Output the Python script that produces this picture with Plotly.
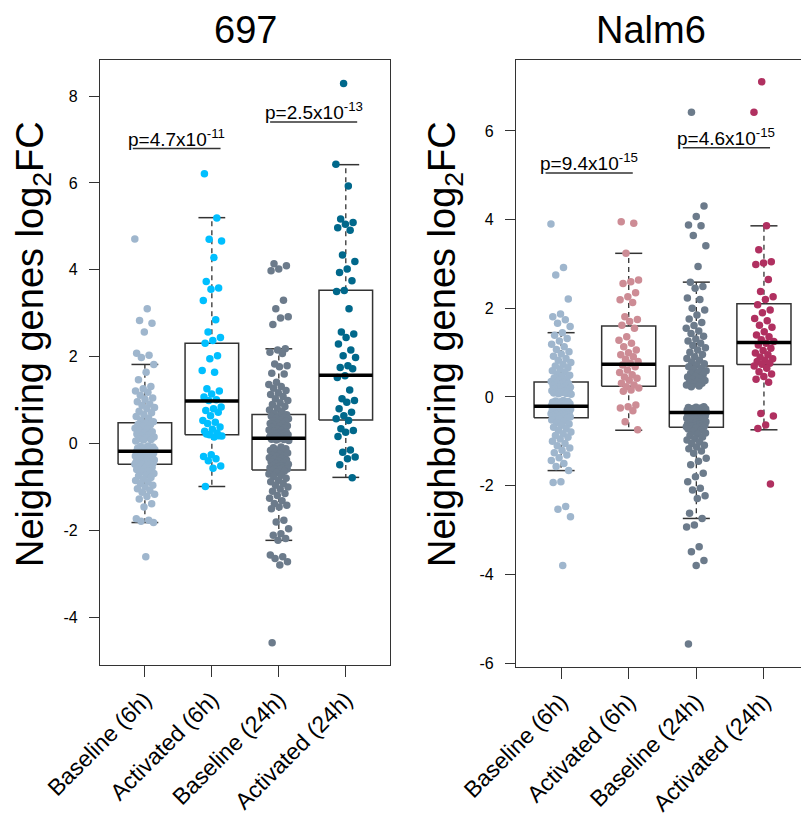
import plotly.graph_objects as go

# ---------------- data ----------------
categories = ["Baseline (6h)", "Activated (6h)", "Baseline (24h)", "Activated (24h)"]
panel_titles = ["697", "Nalm6"]

# 697 panel
c697_base6 = [4.71, 3.10, 2.83, 2.77, 2.57, 2.08, 2.03, 1.98, 1.82, 1.64, 1.47, 1.31, 1.26, 1.21, 1.18,
              1.11, 1.05, 1.02, 0.96, 0.91, 0.88, 0.83, 0.80, 0.74, 0.71, 0.66, 0.62, 0.58, 0.53, 0.50,
              0.47, 0.44, 0.43, 0.39, 0.35, 0.34, 0.30, 0.27, 0.25, 0.22, 0.20, 0.17, 0.15, 0.13, 0.11,
              0.09, 0.08, 0.06, -0.06, -0.07, -0.08, -0.10, -0.11, -0.12, -0.13, -0.14, -0.15, -0.16, -0.17, -0.18,
              -0.19, -0.20, -0.21, -0.22, -0.24, -0.25, -0.26, -0.28, -0.29, -0.30, -0.31, -0.33, -0.34, -0.35, -0.36,
              -0.37, -0.38, -0.39, -0.40, -0.41, -0.42, -0.43, -0.44, -0.45, -0.45, -0.46, -0.47, -0.47, -0.48, -0.48,
              -0.50, -0.52, -0.55, -0.57, -0.60, -0.63, -0.65, -0.69, -0.72, -0.75, -0.78, -0.82, -0.85, -0.88, -0.92,
              -0.96, -1.00, -1.04, -1.08, -1.12, -1.17, -1.22, -1.28, -1.39, -1.46, -1.73, -1.77, -1.79, -1.82, -2.61]
c697_act6 = [6.21, 5.19, 4.70, 4.66, 4.28, 3.73, 3.58, 3.55, 3.29, 2.85, 2.57, 2.44, 2.37, 2.31, 2.02, 1.95,
             1.68, 1.64, 1.26, 1.21, 1.14, 1.07, 1.01, 0.99, 0.84, 0.80, 0.76, 0.72, 0.64, 0.53, 0.49, 0.46,
             0.38, 0.33, 0.28, 0.24, 0.20, 0.17, 0.15, 0.22, 0.18, -0.26, -0.30, -0.35, -0.40, -0.52, -0.57, -0.99]
c697_base24 = [4.14, 4.09, 4.02, 3.98, 3.30, 3.10, 2.92, 2.89, 2.74, 2.18, 2.15, 2.10, 2.07, 1.83, 1.79,
               1.77, 1.62, 1.60, 1.41, 1.36, 1.31, 1.27, 1.22, 1.17, 1.13, 1.08, 1.03, 0.99, 0.94, 0.90,
               0.85, 0.81, 0.77, 0.73, 0.69,
               0.66, 0.64, 0.63, 0.60, 0.58, 0.57, 0.54, 0.52, 0.51, 0.48, 0.46, 0.45, 0.42, 0.41, 0.39,
               0.37, 0.35, 0.34, 0.31, 0.30, 0.28, 0.27, 0.25, 0.24, 0.22, 0.21, 0.20, 0.19, 0.18, 0.17,
               0.16, 0.15, 0.14, 0.13, 0.12,
               0.11, 0.10, 0.09, 0.08, 0.07, -0.08, -0.10, -0.12, -0.15, -0.16, -0.18, -0.21, -0.22, -0.24,
               -0.27, -0.28, -0.30, -0.33, -0.34, -0.36, -0.38, -0.40, -0.42, -0.45, -0.46, -0.48, -0.51,
               -0.52, -0.54, -0.55, -0.56, -0.57, -0.58, -0.59, -0.60,
               -0.62, -0.64, -0.67, -0.70, -0.73, -0.76, -0.80, -0.84, -0.88, -0.92, -0.96, -1.00, -1.05,
               -1.10, -1.15, -1.20, -1.26, -1.32, -1.38, -1.42, -1.46, -1.50, -1.77, -1.81, -1.96, -2.08,
               -2.11, -2.19, -2.23, -2.57, -2.61, -2.65, -2.72, -2.80, -4.59]
c697_act24 = [8.29, 6.43, 5.93, 5.17, 5.09, 5.05, 4.97, 4.91, 4.34, 4.19, 4.02, 3.94, 3.75, 3.52, 3.50, 3.10,
              2.57, 2.52, 2.44, 2.29, 2.15, 2.02, 1.98, 1.79, 1.75, 1.72, 1.56, 1.52, 1.23, 1.03, 0.99, 0.95,
              0.80, 0.72, 0.64, 0.57, 0.53, 0.34, 0.30, 0.26, 0.16, -0.15, -0.20, -0.31, -0.35, -0.49, -0.79]

# Nalm6 panel
nalm_base6 = [3.90, 2.92, 2.75, 2.21, 1.87, 1.81, 1.74, 1.66, 1.59, 1.45, 1.39, 1.32, 1.26, 1.19, 1.13,
              1.07, 1.02, 0.97, 0.92, 0.87, 0.83, 0.78, 0.74, 0.70, 0.66, 0.63, 0.59, 0.56, 0.52, 0.49,
              0.46, 0.43, 0.40, 0.37, 0.35,
              0.33, 0.31, 0.30, 0.28, 0.26, 0.25, 0.23, 0.22, 0.20, 0.19, 0.17, 0.16, 0.14, 0.13, 0.12,
              0.11, 0.10, 0.09, 0.08, 0.07, 0.06, -0.08, -0.09, -0.10, -0.11, -0.12, -0.13, -0.14, -0.15,
              -0.16, -0.17, -0.18, -0.19, -0.20, -0.21,
              -0.22, -0.23, -0.23, -0.24, -0.25, -0.26, -0.27, -0.28, -0.28, -0.29, -0.30, -0.31, -0.32,
              -0.33, -0.33, -0.34, -0.35, -0.36, -0.37, -0.38, -0.38, -0.39, -0.40, -0.41, -0.42, -0.43,
              -0.44, -0.45, -0.45, -0.46, -0.47,
              -0.49, -0.52, -0.55, -0.58, -0.61, -0.64, -0.68, -0.71, -0.75, -0.79, -0.83, -0.87, -0.91,
              -0.95, -1.00, -1.05, -1.10, -1.15, -1.20, -1.26, -1.31, -1.37, -1.43, -1.50, -1.57, -1.66,
              -1.91, -1.93, -2.47, -2.53, -2.70, -3.80]
nalm_act6 = [3.95, 3.92, 3.24, 2.64, 2.60, 2.56, 2.35, 2.26, 2.19, 2.13, 1.81, 1.75, 1.70, 1.62, 1.55, 1.36,
             1.28, 1.21, 1.13, 1.06, 1.00, 0.95, 0.91, 0.85, 0.80, 0.76, 0.72, 0.68, 0.61, 0.55, 0.50, 0.45,
             0.42, 0.38, 0.31, 0.27, 0.23, 0.20, 0.16, 0.13, -0.18, -0.22, -0.25, -0.31, -0.56, -0.74]
nalm_base24 = [6.42, 4.31, 4.07, 3.88, 3.86, 3.64, 3.41, 2.94, 2.59, 2.49, 2.45, 2.23, 2.20, 2.00, 1.96,
               1.85, 1.76, 1.68, 1.61, 1.55, 1.49, 1.43, 1.37, 1.31, 1.26, 1.21, 1.16, 1.11, 1.06, 1.01,
               0.96, 0.91, 0.87, 0.83, 0.79, 0.75, 0.72,
               0.68, 0.65, 0.62, 0.59, 0.56, 0.53, 0.50, 0.47, 0.45, 0.42, 0.40, 0.37, 0.35, 0.33, 0.31,
               0.29, 0.27, 0.25, 0.23, -0.22, -0.23, -0.24, -0.25, -0.26, -0.27, -0.28, -0.28, -0.29,
               -0.30, -0.30, -0.31, -0.32, -0.32, -0.33, -0.33, -0.34, -0.34, -0.35,
               -0.36, -0.37, -0.38, -0.39, -0.40, -0.41, -0.42, -0.43, -0.44, -0.45, -0.46, -0.47, -0.48,
               -0.49, -0.50, -0.51, -0.52, -0.53, -0.54, -0.55, -0.56, -0.57, -0.58, -0.59, -0.60, -0.61,
               -0.62, -0.63, -0.64, -0.64, -0.65, -0.66, -0.66, -0.67, -0.67, -0.68, -0.68,
               -0.70, -0.72, -0.75, -0.78, -0.81, -0.84, -0.87, -0.90, -0.94, -0.97, -1.01, -1.05, -1.09,
               -1.13, -1.17, -1.22, -1.27, -1.38, -1.45, -1.53, -1.72, -1.80, -1.91, -2.06, -2.10, -2.23,
               -2.29, -2.62, -2.74, -2.89, -2.93, -3.38, -3.49, -3.69, -3.80, -5.57]
nalm_act24 = [7.11, 6.42, 3.86, 3.32, 3.05, 3.02, 2.99, 2.65, 2.38, 2.26, 2.20, 2.08, 1.96, 1.90, 1.77, 1.72,
              1.62, 1.57, 1.47, 1.40, 1.36, 1.29, 1.25, 1.21, 1.17, 1.10, 1.05, 0.99, 0.95, 0.90, 0.86, 0.83,
              0.80, 0.76, 0.74, 0.70, 0.65, 0.57, 0.52, 0.46, 0.40, 0.33, -0.37, -0.43, -0.63, -0.71, -1.96]

# box statistics
c697_q1 = [-0.48, 0.20, -0.61, 0.54]
c697_med = [-0.18, 0.98, 0.12, 1.57]
c697_q3 = [0.48, 2.31, 0.67, 3.53]
c697_lo = [-1.82, -0.99, -2.23, -0.78]
c697_hi = [1.82, 5.20, 2.18, 6.42]
nalm_q1 = [-0.47, 0.24, -0.68, 0.73]
nalm_med = [-0.21, 0.74, -0.35, 1.23]
nalm_q3 = [0.34, 1.60, 0.70, 2.10]
nalm_lo = [-1.66, -0.75, -2.74, -0.74]
nalm_hi = [1.45, 3.24, 2.59, 3.86]

# p-value brackets: (x start, x end, y, label)
c697_pvals = [(0.82, 2.13, 6.79, "p=4.7x10<sup>-11</sup>"), (2.87, 4.17, 7.40, "p=2.5x10<sup>-13</sup>")]
nalm_pvals = [(0.77, 2.06, 5.05, "p=9.4x10<sup>-15</sup>"), (2.80, 4.09, 5.62, "p=4.6x10<sup>-15</sup>")]

c697_colors = ["#9FB6CD", "#00BFFF", "#6C7B8B", "#00688B"]
nalm_colors = ["#9FB6CD", "#CD8C95", "#6C7B8B", "#B03060"]

c697_ticks = [-4, -2, 0, 2, 4, 6, 8]
nalm_ticks = [-6, -4, -2, 0, 2, 4, 6]

# ---------------- figure ----------------
W, H = 801, 815
FONT = "Liberation Sans, Arial, Helvetica, sans-serif"
EDGE = "#333333"


def jitter(n, amp, phase):
    return [amp * (2 * ((k * 0.6180339887 + phase) % 1.0) - 1) for k in range(n)]


fig = go.Figure()

panels = [
    dict(xa="x", ya="y", groups=[c697_base6, c697_act6, c697_base24, c697_act24], colors=c697_colors,
         q1=c697_q1, med=c697_med, q3=c697_q3, lo=c697_lo, hi=c697_hi, pv=c697_pvals),
    dict(xa="x2", ya="y2", groups=[nalm_base6, nalm_act6, nalm_base24, nalm_act24], colors=nalm_colors,
         q1=nalm_q1, med=nalm_med, q3=nalm_q3, lo=nalm_lo, hi=nalm_hi, pv=nalm_pvals),
]

for p in panels:
    bx, by, wx, wy, cx, cy, mx, my = [], [], [], [], [], [], [], []
    for i in range(4):
        c = i + 1
        bx += [c - 0.4, c + 0.4, c + 0.4, c - 0.4, c - 0.4, None]
        by += [p["q1"][i], p["q1"][i], p["q3"][i], p["q3"][i], p["q1"][i], None]
        wx += [c, c, None, c, c, None]
        wy += [p["q3"][i], p["hi"][i], None, p["q1"][i], p["lo"][i], None]
        cx += [c - 0.2, c + 0.2, None, c - 0.2, c + 0.2, None]
        cy += [p["hi"][i], p["hi"][i], None, p["lo"][i], p["lo"][i], None]
        mx += [c - 0.4, c + 0.4, None]
        my += [p["med"][i], p["med"][i], None]
    fig.add_trace(go.Scatter(x=bx, y=by, mode="lines", line=dict(color=EDGE, width=1.5),
                             xaxis=p["xa"], yaxis=p["ya"], hoverinfo="skip"))
    fig.add_trace(go.Scatter(x=wx, y=wy, mode="lines", line=dict(color=EDGE, width=1.3, dash="5px,4px"),
                             xaxis=p["xa"], yaxis=p["ya"], hoverinfo="skip"))
    fig.add_trace(go.Scatter(x=cx, y=cy, mode="lines", line=dict(color=EDGE, width=1.5),
                             xaxis=p["xa"], yaxis=p["ya"], hoverinfo="skip"))
    for i, vals in enumerate(p["groups"]):
        amp = 0.15
        xs = [i + 1 + d for d in jitter(len(vals), amp, 0.13 * i)]
        fig.add_trace(go.Scatter(x=xs, y=vals, mode="markers",
                                 marker=dict(color=p["colors"][i], size=7.5, line=dict(width=0)),
                                 xaxis=p["xa"], yaxis=p["ya"], name=categories[i]))
    fig.add_trace(go.Scatter(x=mx, y=my, mode="lines", line=dict(color="black", width=3.5),
                             xaxis=p["xa"], yaxis=p["ya"], hoverinfo="skip"))
    for (x0, x1, yv, lab) in p["pv"]:
        fig.add_trace(go.Scatter(x=[x0, x1], y=[yv, yv], mode="lines", line=dict(color=EDGE, width=1.5),
                                 xaxis=p["xa"], yaxis=p["ya"], hoverinfo="skip"))
        fig.add_annotation(x=(x0 + x1) / 2, y=yv, xref=p["xa"], yref=p["ya"], text=lab, showarrow=False,
                           yanchor="bottom", xanchor="center", yshift=-3,
                           font=dict(size=19, family=FONT, color="black"))

common_x = dict(tickvals=[1, 2, 3, 4], ticktext=categories, tickangle=-45, ticks="outside", ticklen=11,
                tickwidth=1.2, tickcolor=EDGE, showline=True, linecolor=EDGE, linewidth=1.3,
                showgrid=False, zeroline=False, automargin=False,
                tickfont=dict(size=23, family=FONT, color="black"))
common_y = dict(ticks="outside", ticklen=10, tickwidth=1.2, tickcolor=EDGE, showline=True, linecolor=EDGE,
                linewidth=1.3, showgrid=False, zeroline=False, automargin=False,
                tickfont=dict(size=16, family=FONT, color="black"), ticklabelstandoff=8)

fig.update_layout(
    width=W, height=H, margin=dict(l=0, r=0, t=0, b=0, autoexpand=False),
    plot_bgcolor="white", paper_bgcolor="white", showlegend=False,
    font=dict(family=FONT, color="black"),
    xaxis=dict(domain=[100 / W, 390 / W], range=[0.33, 4.66], anchor="y", mirror=True, **common_x),
    yaxis=dict(domain=[1 - 665 / H, 1 - 60 / H], range=[-5.10, 8.83], anchor="x", mirror=True,
               tickvals=c697_ticks, ticktext=[str(t) for t in c697_ticks], **common_y),
    xaxis2=dict(domain=[516 / W, 1.0], range=[0.333, 4.548], anchor="y2", mirror=True, **common_x),
    yaxis2=dict(domain=[1 - 667 / H, 1 - 60 / H], range=[-6.09, 7.60], anchor="x2", mirror=False,
                tickvals=nalm_ticks, ticktext=[str(t) for t in nalm_ticks], **common_y),
)

# panel titles
for txt, xc in zip(panel_titles, [245, 651]):
    fig.add_annotation(x=xc / W, y=1 - 30 / H, xref="paper", yref="paper", text=txt, showarrow=False,
                       xanchor="center", yanchor="middle", font=dict(size=38, family=FONT, color="black"))

# y-axis titles
for xc in [33, 445]:
    fig.add_annotation(x=xc / W, y=1 - 344 / H, xref="paper", yref="paper",
                       text="Neighboring genes log<sub>2</sub>FC",
                       showarrow=False, textangle=-90, xanchor="center", yanchor="middle",
                       font=dict(size=38, family=FONT, color="black"))

fig.write_html("out.html")
